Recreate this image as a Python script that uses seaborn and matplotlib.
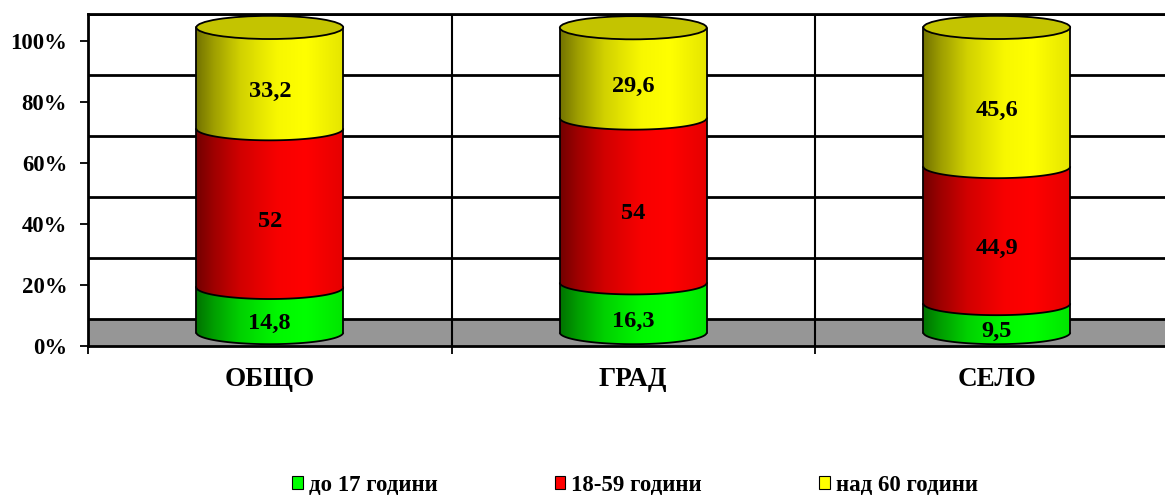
import numpy as np
import matplotlib
matplotlib.use("Agg")
import matplotlib.pyplot as plt
import seaborn as sns
from matplotlib.patches import Ellipse, Patch, PathPatch
from matplotlib.path import Path

# ---------------- data ----------------
categories = ["ОБЩО", "ГРАД", "СЕЛО"]
series_names = ["до 17 години", "18-59 години", "над 60 години"]
young = [14.8, 16.3, 9.5]
working = [52, 54, 44.9]
old = [33.2, 29.6, 45.6]
yticks = [0, 20, 40, 60, 80, 100]
ytick_labels = ["0%", "20%", "40%", "60%", "80%", "100%"]

colors = ["#00ff00", "#ff0000", "#ffff00"]
cap_color = "#c4c400"

# ---------------- style ----------------
sns.set_theme(style="white")
plt.rcParams["font.family"] = ["Liberation Serif", "DejaVu Serif"]
plt.rcParams["font.weight"] = "bold"
for key in ["text.color", "axes.labelcolor", "xtick.color", "ytick.color"]:
    plt.rcParams[key] = "black"

W, H = 1165, 496
fig = plt.figure(figsize=(W / 100, H / 100), dpi=100)
ax = fig.add_axes([88 / W, 1 - 346 / H, 3 * 363.5 / W, (346 - 14) / H])

DEPTH = 8.8          # floor depth in data units (3D look)
OFF = DEPTH / 2      # bars stand in the middle of the floor
BW = 0.404           # bar width (category units)
EB = 3.8             # ellipse semi-minor axis in data units

# ---------------- bars via seaborn ----------------
series = [young, working, old]
bottoms = np.full(len(categories), OFF)
groups = []
for vals, col in zip(series, colors):
    n0 = len(ax.patches)
    sns.barplot(x=categories, y=vals, order=categories, bottom=bottoms,
                color=col, width=BW, saturation=1, edgecolor="none",
                ax=ax, zorder=2)
    groups.append((list(ax.patches[n0:]), col))
    bottoms = bottoms + np.array(vals, dtype=float)

# ---------------- cylinder shading ----------------
prof_t = [0.0, 0.12, 0.3, 0.55, 0.75, 1.0]
prof_f = [0.45, 0.62, 0.82, 0.97, 1.0, 0.9]
tt = np.linspace(0, 1, 200)
ff = np.interp(tt, prof_t, prof_f)


def gradient(col, scale=1.0):
    rgb = np.array(matplotlib.colors.to_rgb(col))
    img = np.clip(scale * ff[:, None] * rgb[None, :], 0, 1)
    return img[None, :, :]


theta = np.linspace(np.pi, 2 * np.pi, 80)
for k, (patches, col) in enumerate(groups):
    z = 3 + k
    for p in patches:
        x0, y0, w, h = p.get_x(), p.get_y(), p.get_width(), p.get_height()
        xc, a = x0 + w / 2, w / 2
        arc_x = xc + a * np.cos(theta)
        arc_y = y0 + EB * np.sin(theta)
        verts = [(x0, y0 + h), (x0, y0)] + list(zip(arc_x, arc_y)) + \
                [(x0 + w, y0 + h), (x0, y0 + h)]
        codes = [Path.MOVETO] + [Path.LINETO] * (len(verts) - 2) + [Path.CLOSEPOLY]
        clip = PathPatch(Path(verts, codes), transform=ax.transData,
                         facecolor="none", edgecolor="none")
        ax.add_patch(clip)
        im = ax.imshow(gradient(col), extent=[x0, x0 + w, y0 - EB, y0 + h],
                       aspect="auto", zorder=z, interpolation="bilinear")
        im.set_clip_path(clip)
        ax.plot(arc_x, arc_y, color="black", lw=1.3, zorder=z + 0.5,
                solid_capstyle="butt")
        ax.plot([x0, x0], [y0, y0 + h], color="black", lw=1.3, zorder=z + 0.5)
        ax.plot([x0 + w, x0 + w], [y0, y0 + h], color="black", lw=1.3, zorder=z + 0.5)
        if k == len(groups) - 1:
            cap = Ellipse((xc, y0 + h), w, 2 * EB, facecolor=cap_color,
                          edgecolor="black", lw=1.3, zorder=8)
            ax.add_patch(cap)

# ---------------- value labels ----------------
def fmt(v):
    return f"{v:g}".replace(".", ",")


cum = np.zeros(len(categories))
for vals in series:
    for i, v in enumerate(vals):
        ax.text(i, cum[i] + v / 2, fmt(v), ha="center", va="center",
                fontsize=17.5, fontweight="bold", color="black", zorder=10)
    cum += np.array(vals, dtype=float)

# ---------------- walls, floor, grid ----------------
ax.axhspan(0, DEPTH, color="#969696", zorder=0.5, lw=0)
for v in yticks:
    ax.axhline(v + DEPTH, color="black", lw=2.0, zorder=1)
for xv in [0.5, 1.5]:
    ax.axvline(xv, color="black", lw=1.5, zorder=1)

ax.set_xlim(-0.5, 2.5)
ax.set_ylim(0, 100 + DEPTH)
ax.set_xlabel("")
ax.set_ylabel("")

ax.set_yticks(yticks)
ax.set_yticklabels(ytick_labels, fontsize=16.4, fontweight="bold")
ax.tick_params(axis="y", left=True, length=6, width=1.3, color="black",
               pad=9, direction="out")

ax.set_xticks(range(len(categories)))
ax.set_xticklabels(categories, fontsize=19.5, fontweight="bold")
ax.set_xticks([-0.5, 0.5, 1.5, 2.5], minor=True)
ax.tick_params(axis="x", which="major", length=0, pad=15)
ax.tick_params(axis="x", which="minor", bottom=True, length=6, width=1.3,
               color="black", direction="out")

for side, sp in ax.spines.items():
    sp.set_visible(True)
    sp.set_color("black")
    sp.set_linewidth(2.0)
ax.grid(False)

# ---------------- legend ----------------
handles = [Patch(facecolor=c, edgecolor="black", lw=0.8) for c in colors]
fig.legend(handles, series_names, loc="center", bbox_to_anchor=(0.545, 0.022),
           ncol=3, frameon=False, handlelength=0.47, handleheight=0.47,
           handletextpad=0.26, columnspacing=5.1,
           prop={"weight": "bold", "size": 16.5, "family": ["Liberation Serif"]})

fig.savefig("out.png", dpi=100)
